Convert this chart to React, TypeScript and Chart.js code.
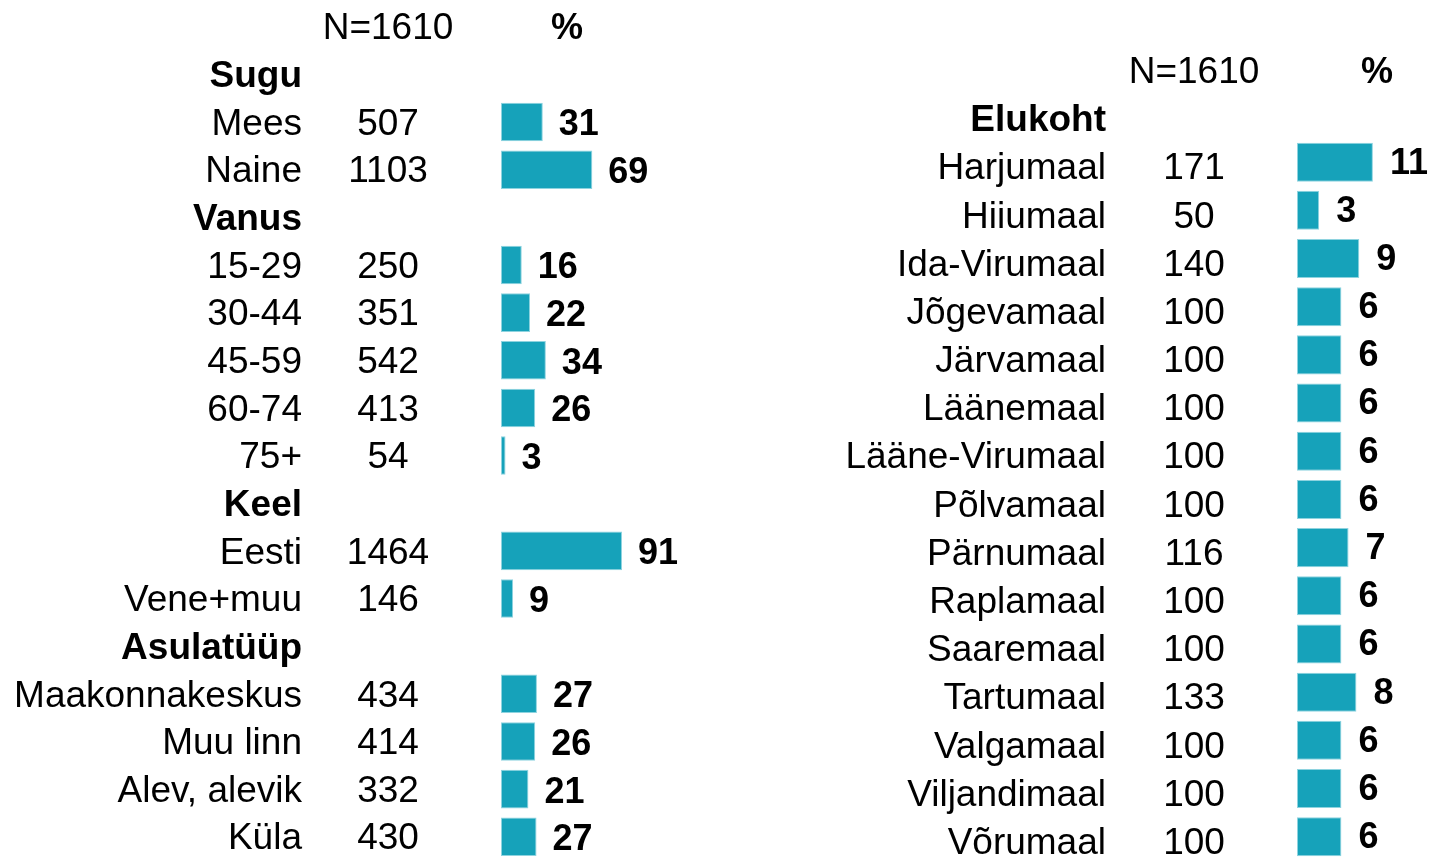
import React, { useEffect, useRef } from "react";
import { Chart, registerables } from "chart.js";

Chart.register(...registerables);

// ---- Data ----
const headerN = "N=1610";
const headerPct = "%";

const leftLabels = ["", "Sugu", "Mees", "Naine", "Vanus", "15-29", "30-44", "45-59", "60-74", "75+", "Keel", "Eesti", "Vene+muu", "Asulatüüp", "Maakonnakeskus", "Muu linn", "Alev, alevik", "Küla"];
const leftGroups = ["Sugu", "Vanus", "Keel", "Asulatüüp"];
const leftN = [null, null, 507, 1103, null, 250, 351, 542, 413, 54, null, 1464, 146, null, 434, 414, 332, 430];
const leftPct = [null, null, 31.4, 68.6, null, 15.6, 21.8, 33.7, 25.7, 3.4, null, 90.9, 9.1, null, 27.0, 25.7, 20.6, 26.7];

const rightLabels = ["", "Elukoht", "Harjumaal", "Hiiumaal", "Ida-Virumaal", "Jõgevamaal", "Järvamaal", "Läänemaal", "Lääne-Virumaal", "Põlvamaal", "Pärnumaal", "Raplamaal", "Saaremaal", "Tartumaal", "Valgamaal", "Viljandimaal", "Võrumaal"];
const rightGroups = ["Elukoht"];
const rightN = [null, null, 171, 50, 140, 100, 100, 100, 100, 100, 116, 100, 100, 133, 100, 100, 100];
const rightPct = [null, null, 10.6, 3.1, 8.7, 6.2, 6.2, 6.2, 6.2, 6.2, 7.2, 6.2, 6.2, 8.3, 6.2, 6.2, 6.2];

const W = 1429;
const H = 870;
const FONT = '"Liberation Sans", Arial, sans-serif';
const BAR = "#16A2BA";

type PanelCfg = {
  labels: string[];
  groups: string[];
  n: (number | null)[];
  pct: (number | null)[];
  barStart: number;
  pxPerUnit: number;
  xMax: number;
  top: number;
  bottom: number;
  labelRight: number;
  nCenter: number;
  pctCenter: number;
  textOffset: number;
  valueOffset: number;
  valueGap: number;
};

function makeChart(canvas: HTMLCanvasElement, cfg: PanelCfg) {
  const textPlugin = {
    id: "tableText",
    afterDatasetsDraw(chart: any) {
      const ctx = chart.ctx;
      const ys = chart.scales.y;
      const xs = chart.scales.x;
      ctx.save();
      ctx.fillStyle = "#000";
      ctx.textBaseline = "middle";
      cfg.labels.forEach((lab, i) => {
        const y = ys.getPixelForValue(i) + cfg.textOffset;
        if (i === 0) {
          ctx.font = `37px ${FONT}`;
          ctx.textAlign = "center";
          ctx.fillText(headerN, cfg.nCenter, y);
          ctx.font = `bold 36px ${FONT}`;
          ctx.fillText(headerPct, cfg.pctCenter, y);
          return;
        }
        const isGroup = cfg.groups.includes(lab);
        ctx.font = `${isGroup ? "bold " : ""}37px ${FONT}`;
        ctx.textAlign = "right";
        ctx.fillText(lab, cfg.labelRight, y);
        const nv = cfg.n[i];
        if (nv !== null && nv !== undefined) {
          ctx.font = `37px ${FONT}`;
          ctx.textAlign = "center";
          ctx.fillText(String(nv), cfg.nCenter, y);
        }
        const pv = cfg.pct[i];
        if (pv !== null && pv !== undefined) {
          ctx.font = `bold 36px ${FONT}`;
          ctx.textAlign = "left";
          const x = xs.getPixelForValue(pv) + cfg.valueGap;
          ctx.fillText(String(Math.round(pv)), x, ys.getPixelForValue(i) + cfg.valueOffset);
        }
      });
      ctx.restore();
    },
  };

  const right = W - (cfg.barStart + cfg.xMax * cfg.pxPerUnit);
  return new Chart(canvas, {
    type: "bar",
    data: {
      labels: cfg.labels,
      datasets: [
        {
          data: cfg.pct as any,
          backgroundColor: BAR,
          borderColor: "#8ED3DF",
          borderWidth: 1,
          borderSkipped: false,
          barPercentage: 1,
          categoryPercentage: 0.81,
          clip: false as any,
        },
      ],
    },
    options: {
      indexAxis: "y",
      responsive: false,
      animation: false,
      events: [],
      layout: {
        padding: { left: cfg.barStart, right, top: cfg.top, bottom: H - cfg.bottom },
      },
      plugins: { legend: { display: false }, tooltip: { enabled: false } },
      scales: {
        x: { type: "linear", min: 0, max: cfg.xMax, display: false },
        y: { type: "category", display: false },
      },
    },
    plugins: [textPlugin],
  });
}

export default function App() {
  const leftRef = useRef<HTMLCanvasElement>(null);
  const rightRef = useRef<HTMLCanvasElement>(null);

  useEffect(() => {
    const c1 = makeChart(leftRef.current!, {
      labels: leftLabels,
      groups: leftGroups,
      n: leftN,
      pct: leftPct,
      barStart: 501,
      pxPerUnit: 1.331,
      xMax: 100,
      top: 2.9,
      bottom: 860.6,
      labelRight: 302,
      nCenter: 388,
      pctCenter: 567,
      textOffset: 2.5,
      valueOffset: 3.5,
      valueGap: 16,
    });
    const c2 = makeChart(rightRef.current!, {
      labels: rightLabels,
      groups: rightGroups,
      n: rightN,
      pct: rightPct,
      barStart: 1297,
      pxPerUnit: 7.16,
      xMax: 15,
      top: 41.7,
      bottom: 860.8,
      labelRight: 1106,
      nCenter: 1194,
      pctCenter: 1377,
      textOffset: 7,
      valueOffset: 1.5,
      valueGap: 17,
    });
    return () => {
      c1.destroy();
      c2.destroy();
    };
  }, []);

  return (
    <div style={{ position: "fixed", left: 0, top: 0, width: W, height: 858, overflow: "hidden", background: "#fff" }}>
      <canvas ref={leftRef} width={W} height={H} style={{ position: "absolute", left: 0, top: 0 }} />
      <canvas ref={rightRef} width={W} height={H} style={{ position: "absolute", left: 0, top: 0 }} />
    </div>
  );
}
